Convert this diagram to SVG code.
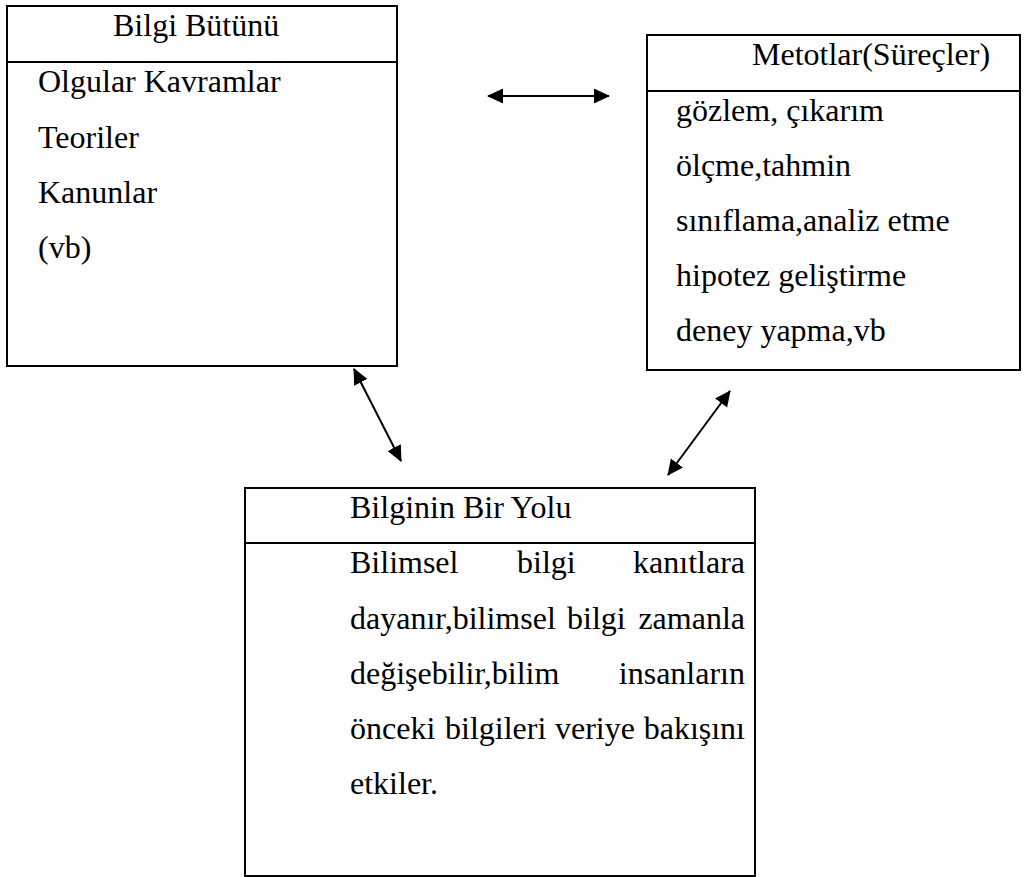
<svg xmlns="http://www.w3.org/2000/svg" width="1025" height="877" viewBox="0 0 1025 877">
<style>
.box{fill:#fff;stroke:#000;stroke-width:2}
.div{stroke:#000;stroke-width:2}
.t{font-family:'Liberation Serif','DejaVu Serif',serif;font-size:32px;fill:#000}
.e{text-anchor:end}
.c{stroke:#000;stroke-width:2;fill:none;marker-start:url(#ah);marker-end:url(#ah)}
</style>
<defs>
<marker id="ah" markerUnits="userSpaceOnUse" markerWidth="16" markerHeight="16" refX="15" refY="7.5" orient="auto-start-reverse" viewBox="0 0 16 15">
<path d="M0,0 L16,7.5 L0,15 z" fill="#000"/>
</marker>
</defs>
<rect width="1025" height="877" fill="#fff"/>
<g id="bilgi-butunu">
<rect class="box" x="7" y="6" width="390" height="360"/>
<line class="div" x1="7" y1="62" x2="397" y2="62"/>
<text class="t" x="113" y="36">Bilgi Bütünü</text>
<text class="t" x="38" y="92">Olgular Kavramlar</text>
<text class="t" x="38" y="148">Teoriler</text>
<text class="t" x="38" y="203">Kanunlar</text>
<text class="t" x="38" y="258">(vb)</text>
</g>
<g id="metotlar">
<rect class="box" x="647" y="35" width="373" height="335"/>
<line class="div" x1="647" y1="91" x2="1020" y2="91"/>
<text class="t" x="752" y="65">Metotlar(Süreçler)</text>
<text class="t" x="676" y="121">gözlem, çıkarım</text>
<text class="t" x="676" y="176">ölçme,tahmin</text>
<text class="t" x="676" y="231">sınıflama,analiz etme</text>
<text class="t" x="676" y="286">hipotez geliştirme</text>
<text class="t" x="676" y="341">deney yapma,vb</text>
</g>
<g id="bilginin-bir-yolu">
<rect class="box" x="245" y="488" width="510" height="388"/>
<line class="div" x1="245" y1="543" x2="755" y2="543"/>
<text class="t" x="350" y="518">Bilginin Bir Yolu</text>
<text class="t" x="350" y="573">Bilimsel</text>
<text class="t" x="517" y="573">bilgi</text>
<text class="t e" x="745" y="573">kanıtlara</text>
<text class="t" x="350" y="629">dayanır,bilimsel</text>
<text class="t" x="567" y="629">bilgi</text>
<text class="t e" x="745" y="629">zamanla</text>
<text class="t" x="350" y="684">değişebilir,bilim</text>
<text class="t e" x="745" y="684">insanların</text>
<text class="t" x="350" y="739">önceki</text>
<text class="t" x="445" y="739">bilgileri</text>
<text class="t" x="555" y="739">veriye</text>
<text class="t e" x="745" y="739">bakışını</text>
<text class="t" x="350" y="794">etkiler.</text>
</g>
<g id="connectors">
<line class="c" x1="488" y1="96" x2="609" y2="96"/>
<line class="c" x1="354" y1="369" x2="401" y2="461"/>
<line class="c" x1="730" y1="391" x2="668" y2="475"/>
</g>
</svg>
